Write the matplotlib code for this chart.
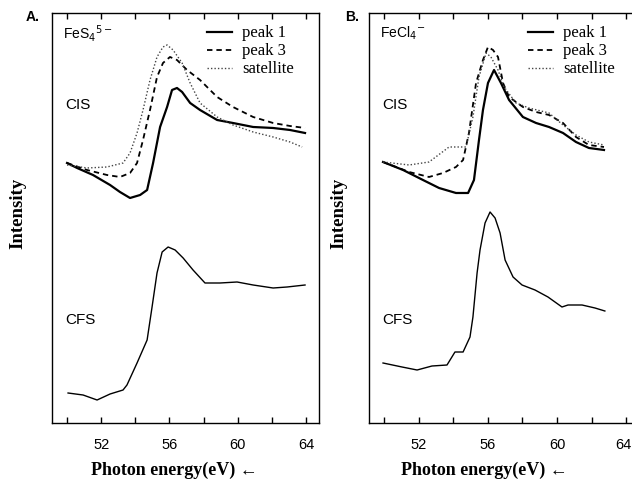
import numpy as np
import matplotlib
matplotlib.use("Agg")
import matplotlib.pyplot as plt
import matplotlib.transforms as mtransforms
from matplotlib.ticker import FixedLocator, NullFormatter

# panel A: FeS4 5-  (energy in eV, intensity in arbitrary units)
a_p1_e = [50.0, 50.59, 51.52, 52.52, 53.10, 53.69, 54.28, 54.69, 55.04, 55.45, 55.86, 56.15, 56.44,
          56.74, 57.21, 57.79, 58.79, 59.72, 60.90, 62.07, 63.06, 63.94]
a_p1_i = [260, 255, 248, 238, 231, 225, 228, 233, 260, 296, 316, 333, 335,
          331, 320, 313, 303, 300, 296, 295, 293, 290]
a_p3_e = [50.0, 51.17, 52.34, 53.10, 53.69, 54.10, 54.45, 54.86, 55.27, 55.62, 56.03, 56.44, 57.03,
          57.79, 58.79, 59.72, 60.90, 62.07, 63.06, 63.94]
a_p3_i = [260, 253, 248, 246, 250, 260, 283, 313, 346, 360, 366, 363, 353,
          343, 326, 316, 306, 300, 297, 295]
a_sat_e = [50.0, 51.17, 52.34, 53.28, 53.69, 54.10, 54.45, 54.86, 55.27, 55.62, 55.86, 56.21, 56.74,
           57.21, 57.79, 58.79, 59.72, 60.90, 62.07, 63.06, 63.77]
a_sat_i = [258, 255, 256, 260, 270, 290, 313, 343, 366, 376, 378, 373, 360,
           340, 320, 306, 298, 291, 286, 281, 276]
a_cfs_e = [50.06, 50.94, 51.76, 52.52, 53.28, 53.51, 54.10, 54.69, 54.98, 55.27, 55.57, 55.92, 56.33,
           56.80, 57.38, 58.08, 58.96, 59.96, 60.90, 62.07, 62.89, 63.94]
a_cfs_i = [30, 28, 23, 29, 33, 38, 60, 83, 116, 150, 171, 176, 173,
           165, 153, 140, 140, 141, 138, 135, 136, 138]

# panel B: FeCl4 -
b_p1_e = [49.94, 51.10, 52.25, 53.18, 54.16, 54.86, 55.20, 55.49, 55.72, 56.01, 56.36, 56.76, 57.23,
          58.03, 58.79, 59.54, 60.35, 61.10, 61.85, 62.72]
b_p1_i = [261, 253, 243, 235, 230, 230, 243, 283, 313, 340, 353, 340, 323,
          306, 300, 296, 290, 281, 275, 273]
b_p3_e = [49.94, 51.45, 52.60, 53.41, 54.16, 54.57, 54.91, 55.32, 55.72, 56.01, 56.30, 56.59, 56.88,
          57.23, 58.03, 58.79, 59.54, 60.35, 61.10, 61.85, 62.72]
b_p3_i = [261, 251, 246, 250, 256, 263, 290, 340, 363, 376, 373, 366, 340,
          326, 316, 311, 308, 300, 286, 278, 276]
b_sat_e = [49.94, 51.45, 52.60, 53.76, 54.74, 55.14, 55.49, 55.90, 56.18, 56.59, 56.94, 57.63, 58.38,
           59.54, 60.35, 61.10, 61.85, 62.72]
b_sat_i = [261, 258, 261, 276, 276, 306, 346, 370, 366, 353, 336, 320, 315,
           310, 298, 288, 281, 278]
b_cfs_e = [49.94, 51.04, 51.91, 52.77, 53.64, 54.10, 54.57, 54.97, 55.14, 55.38, 55.55, 55.84, 56.13,
           56.42, 56.71, 57.00, 57.46, 57.98, 58.73, 59.48, 60.29, 60.64, 61.45, 62.20, 62.77]
b_cfs_i = [60, 56, 53, 57, 58, 71, 71, 86, 106, 150, 173, 200, 211,
           205, 190, 163, 146, 138, 133, 126, 116, 118, 118, 115, 112]

major_ticks = [52, 56, 60, 64]
minor_ticks = [50, 54, 58, 62]

serif = "Liberation Serif"
sans = "Liberation Sans"

fig = plt.figure(figsize=(6.32, 4.79), dpi=100)
ax_a = fig.add_axes([0.0823, 0.1169, 0.4225, 0.856])
ax_b = fig.add_axes([0.5839, 0.1169, 0.4161, 0.856])


def setup(ax, xlim, xlab_x, ylab_x):
    ax.set_xlim(*xlim)
    ax.set_ylim(0, 410)
    ax.set_yticks([])
    ax.xaxis.set_major_locator(FixedLocator(major_ticks))
    ax.xaxis.set_minor_locator(FixedLocator(minor_ticks))
    ax.xaxis.set_minor_formatter(NullFormatter())
    ax.tick_params(axis="x", which="both", direction="in", top=True, length=4, width=1.0)
    ax.tick_params(axis="x", which="major", labelsize=10.5, pad=11)
    for lab in ax.get_xticklabels():
        lab.set_family(sans)
    for s in ax.spines.values():
        s.set_linewidth(1.0)
    ax.set_xlabel("Photon energy(eV) \u2190", fontfamily=serif, fontweight="bold", fontsize=13)
    ax.xaxis.set_label_coords(xlab_x, -0.095)
    ax.set_ylabel("Intensity", fontfamily=serif, fontweight="bold", fontsize=13.5)
    ax.yaxis.set_label_coords(ylab_x, 0.51)


def draw(ax, p1, p3, sat, cfs, name, leg_x):
    ax.plot(*p1, color="black", lw=1.6, label="peak 1")
    ax.plot(*p3, color="black", lw=1.3, ls=(0, (3, 2.2)), label="peak 3")
    ax.plot(*sat, color="#444444", lw=1.0, ls=(0, (1, 1.5)), label="satellite")
    ax.plot(*cfs, color="black", lw=1.0)
    ax.text(0.04, 0.951, name, transform=ax.transAxes, fontfamily=sans, fontsize=10, va="center")
    ax.text(0.05, 0.776, "CIS", transform=ax.transAxes, fontfamily=sans, fontsize=11, va="center")
    ax.text(0.05, 0.251, "CFS", transform=ax.transAxes, fontfamily=sans, fontsize=11, va="center")
    ax.legend(loc="upper left", bbox_to_anchor=(leg_x, 0.99), frameon=False, borderpad=0,
              handlelength=1.5, handletextpad=0.6, labelspacing=0.12,
              prop={"family": serif, "size": 12})


setup(ax_a, (49.12, 64.76), 0.46, -0.097)
draw(ax_a, (a_p1_e, a_p1_i), (a_p3_e, a_p3_i), (a_sat_e, a_sat_i), (a_cfs_e, a_cfs_i),
     r"FeS$_4$$^{5-}$", 0.55)

setup(ax_b, (49.13, 64.34), 0.44, -0.084)
ax_b.spines["right"].set_visible(False)
draw(ax_b, (b_p1_e, b_p1_i), (b_p3_e, b_p3_i), (b_sat_e, b_sat_i), (b_cfs_e, b_cfs_i),
     r"FeCl$_4$$^{-}$", 0.572)

# keep the last tick label of panel B inside the figure edge
fig.canvas.draw()
last = ax_b.get_xticklabels()[-1]
last.set_horizontalalignment("right")
last.set_transform(last.get_transform() + mtransforms.ScaledTranslation(5 / 100, 0, fig.dpi_scale_trans))

fig.text(0.041, 0.965, "A.", fontfamily=sans, fontweight="bold", fontsize=10, va="center")
fig.text(0.546, 0.965, "B.", fontfamily=sans, fontweight="bold", fontsize=10, va="center")

fig.savefig("out.png", dpi=100)
